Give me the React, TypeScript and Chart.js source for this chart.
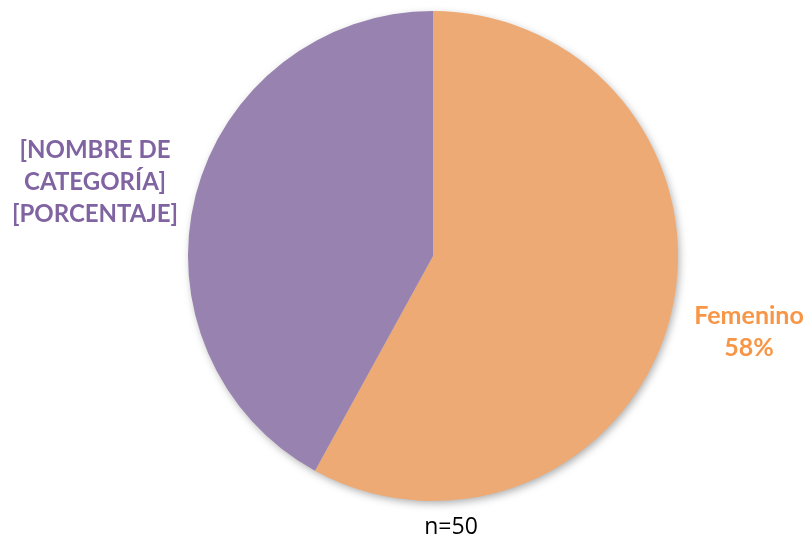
import React, { useEffect, useRef } from "react";
import { Chart, registerables } from "chart.js";

Chart.register(...registerables);

const categories = ["Femenino", "[NOMBRE DE CATEGORÍA]"];
const values = [58, 42];
const sliceColors = ["#EDAA74", "#9882AF"];
const labelColors = ["#F79646", "#8064A2"];
const labelLines = [["Femenino", "58%"], ["[NOMBRE DE", "CATEGORÍA]", "[PORCENTAJE]"]];
const labelCenters = [[749, 316], [95, 150]];
const labelSizes = [25, 24];
const footnote = "n=50";

const labelPlugin = {
  id: "pieLabels",
  beforeDatasetsDraw(chart: any) {
    const meta = chart.getDatasetMeta(0);
    const arc = meta.data[0];
    if (!arc) return;
    const ctx = chart.ctx;
    ctx.save();
    ctx.beginPath();
    ctx.arc(arc.x, arc.y, arc.outerRadius - 1, 0, Math.PI * 2);
    ctx.shadowColor = "rgba(0,0,0,0.35)";
    ctx.shadowBlur = 8;
    ctx.shadowOffsetX = 2;
    ctx.shadowOffsetY = 3;
    ctx.fillStyle = "#cccccc";
    ctx.fill();
    ctx.restore();
  },
  afterDraw(chart: any) {
    const ctx = chart.ctx;
    ctx.save();
    ctx.textAlign = "center";
    ctx.textBaseline = "middle";
    labelLines.forEach((lines, i) => {
      ctx.font = `bold ${labelSizes[i]}px Lato`;
      ctx.fillStyle = labelColors[i];
      const [cx, cy] = labelCenters[i];
      lines.forEach((t, j) => ctx.fillText(t, cx, cy + j * 32));
    });
    ctx.font = "23px 'Open Sans'";
    ctx.fillStyle = "#000000";
    ctx.fillText(footnote, 451, 527);
    ctx.restore();
  },
};

export default function App() {
  const ref = useRef<HTMLCanvasElement>(null);
  useEffect(() => {
    const chart = new Chart(ref.current!, {
      type: "pie",
      data: {
        labels: categories,
        datasets: [
          {
            data: values,
            backgroundColor: sliceColors,
            borderWidth: 0,
          },
        ],
      },
      options: {
        animation: false,
        responsive: false,
        layout: { padding: { top: 11, bottom: 40, left: 188, right: 128 } },
        plugins: { legend: { display: false }, tooltip: { enabled: false } },
      },
      plugins: [labelPlugin],
    });
    return () => chart.destroy();
  }, []);
  return (
    <div style={{ position: "absolute", left: 0, top: 0, width: 806, height: 541, background: "#fff" }}>
      <canvas ref={ref} width={806} height={541} />
    </div>
  );
}
